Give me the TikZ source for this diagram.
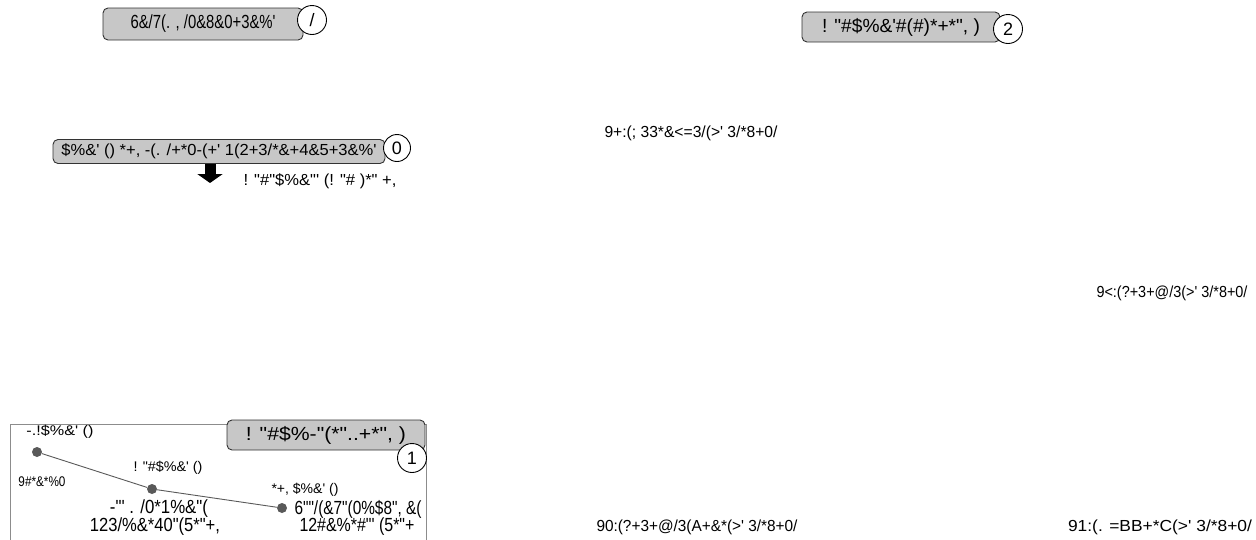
\documentclass[tikz,border=0pt]{standalone}
\usepackage{fontspec}
\usepackage{graphicx}
\setmainfont{Liberation Sans}[Ligatures=TeXOff]
\usetikzlibrary{arrows.meta}
\newcommand\tw[2]{\resizebox{#1pt}{\height}{#2}}
\begin{document}
\begin{tikzpicture}[x=1pt,y=-1pt,
  box/.style={draw=black!80, fill=black!22, rounded corners=5pt, line width=0.9pt, inner sep=0pt},
  num/.style={circle, draw=black, fill=white, line width=0.9pt, minimum size=29pt, inner sep=0pt, font=\fontsize{18}{18}\selectfont},
  big/.style={inner sep=0pt, font=\fontsize{19}{19}\selectfont},
  mid/.style={inner sep=0pt, font=\fontsize{16}{16}\selectfont},
  small/.style={inner sep=0pt, font=\fontsize{14}{14}\selectfont},
  dot/.style={circle, fill=black!65, minimum size=10pt, inner sep=0pt},
  link/.style={draw=black!65, line width=0.9pt}]
\useasboundingbox (0,0) rectangle (1256,539);
% top left
\node[box, minimum width=200pt, minimum height=32pt, big] (b1) at (203,24) {\tw{145}{6\&/7(. , /0\&8\&0+3\&\%'}};
\node[num] (c1) at (312,20) {/};
% top right
\node[box, minimum width=198pt, minimum height=30pt, big] (b2) at (901,27) {\tw{158}{! "\#\$\%\&'\#(\#)*+*", )}};
\node[num] (c2) at (1008,29) {2};
% middle left
\node[box, minimum width=332pt, minimum height=24pt, mid] (b0) at (219,151.5) {\tw{315}{\$\%\&' () *+, -(. /+*0-(+' 1(2+3/*\&+4\&5+3\&\%'}};
\node[num, minimum size=27pt] (c0) at (397,148) {0};
\coordinate (atop) at (210,164);
\coordinate (abot) at (210,183);
\draw[line width=11pt, -{Triangle[width=25pt,length=9pt]}] (atop) -- (abot);
\node[mid] (t0) at (320,181) {\tw{153}{! "\#"\$\%\&"' (! "\# )*" +,}};
% free labels
\node[mid] (l1) at (691,133) {\tw{173}{9+:(; 33*\&<=3/(>' 3/*8+0/}};
\node[mid] (l2) at (1172,293) {\tw{151}{9<:(?+3+@/3(>' 3/*8+0/}};
\node[mid] (l3) at (697,527) {\tw{201}{90:(?+3+@/3(A+\&*(>' 3/*8+0/}};
\node[mid] (l4) at (1160,527) {\tw{184}{91:(. =BB+*C(>' 3/*8+0/}};
% bottom left panel
\draw[draw=black!45, line width=0.9pt] (10,545) -- (10,424) -- (426,424) -- (426,545);
\node[box, minimum width=198pt, minimum height=30pt, big] (b3) at (326,435) {\tw{160}{! "\#\$\%-"(*"..+*", )}};
\node[num] (c3) at (412,458) {1};
\node[dot] (d1) at (37,452) {};
\node[dot] (d2) at (152,489) {};
\node[dot] (d3) at (282,508) {};
\draw[link] (d1) -- (d2) -- (d3);
\node[small] (p1) at (60,432) {\tw{67}{-.!\$\%\&' ()}};
\node[small] (p2) at (42,482) {\tw{47}{9\#*\&*\%0}};
\node[small] (p3) at (168,468) {\tw{69}{! "\#\$\%\&' ()}};
\node[big] (p4) at (159,509) {\tw{98}{-"' . /0*1\%\&"(}};
\node[big] (p5) at (155,527) {\tw{130}{123/\%\&*40"(5*"+,}};
\node[small] (p6) at (305,490) {\tw{67}{*+, \$\%\&' ()}};
\node[big] (p7) at (358,509) {\tw{127}{6""/(\&7"(0\%\$8", \&(}};
\node[big] (p8) at (357,527) {\tw{115}{12\#\&\%*\#"' (5*"+}};
\end{tikzpicture}
\end{document}
